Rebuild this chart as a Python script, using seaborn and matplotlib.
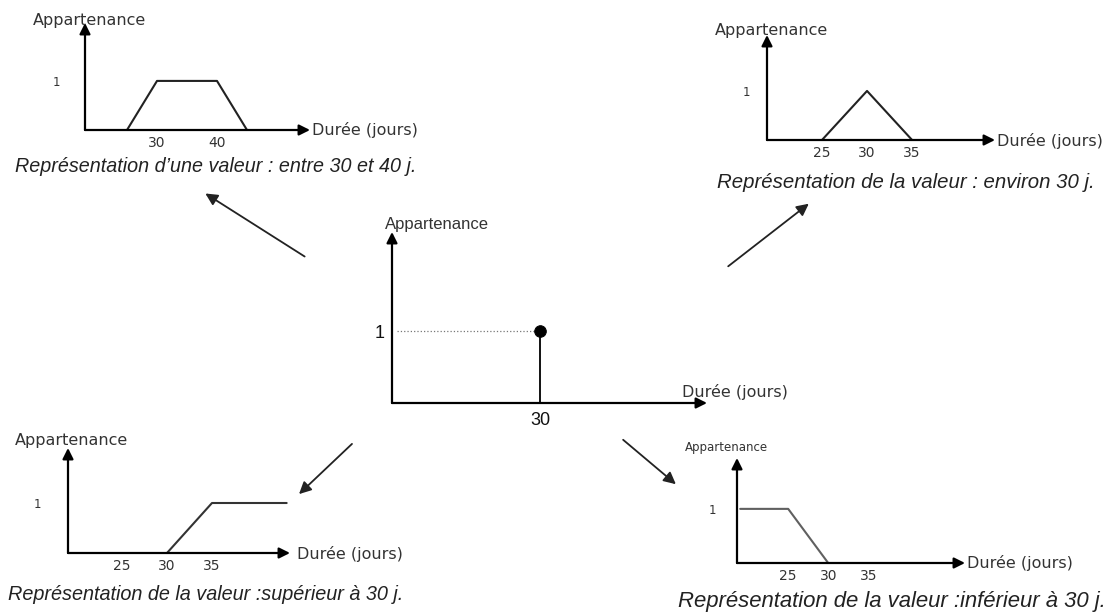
import matplotlib

matplotlib.use("Agg")
import matplotlib.pyplot as plt
import seaborn as sns

sns.set_theme(style="white")
plt.rcParams["font.family"] = ["DejaVu Sans"]

W, H = 1109, 613

# --- données : fonctions d'appartenance ------------------------------------
entre_x = [25, 30, 40, 45]
entre_y = [0, 1, 1, 0]
entre_ticks = [30, 40]

environ_x = [25, 30, 35]
environ_y = [0, 1, 0]
environ_ticks = [25, 30, 35]

exact_x = [30, 30]
exact_y = [0, 1]
exact_ticks = [30]

sup_x = [30, 35, 43.3]
sup_y = [0, 1, 1]
sup_ticks = [25, 30, 35]

inf_x = [19, 25, 30]
inf_y = [1, 1, 0]
inf_ticks = [25, 30, 35]

label_y = "Appartenance"
label_x = "Durée (jours)"
captions = [
    "Représentation d\u2019une valeur : entre 30 et 40 j.",
    "Représentation de la valeur : environ 30 j.",
    "Représentation de la valeur :supérieur à 30 j.",
    "Représentation de la valeur :inférieur à 30 j.",
]


def fx(x):
    return x / W


def fy(y):
    return 1 - y / H


def panneau(box, xlim, ylim, ticks, tick_size=10, ypad=18, xpad=4.5,
            ytick_font="DejaVu Sans", ytick_size=8.5):
    x0, x1, yt, yb = box
    ax = fig.add_axes([fx(x0), fy(yb), fx(x1 - x0), (yb - yt) / H])
    ax.set_xlim(*xlim)
    ax.set_ylim(*ylim)
    for s in ax.spines.values():
        s.set_visible(False)
    ax.set_facecolor("none")
    ax.set_xticks(ticks)
    ax.set_xticklabels([str(t) for t in ticks], fontsize=tick_size,
                       color="#333333")
    ax.set_yticks([1])
    ax.set_yticklabels(["1"], fontsize=ytick_size, color="#333333",
                       family=ytick_font)
    ax.tick_params(axis="x", length=0, pad=xpad)
    ax.tick_params(axis="y", length=0, pad=ypad)
    ax.grid(False)
    fleche = dict(arrowstyle="-|>", color="black", lw=1.6,
                  mutation_scale=16, shrinkA=0, shrinkB=0)
    ax.annotate("", xy=(1, 0), xytext=(0, 0), xycoords="axes fraction",
                arrowprops=fleche, annotation_clip=False)
    ax.annotate("", xy=(0, 1), xytext=(0, 0), xycoords="axes fraction",
                arrowprops=fleche, annotation_clip=False)
    return ax


def courbe(ax, x, y, color="#222222", lw=1.5, **kw):
    sns.lineplot(x=x, y=y, ax=ax, color=color, lw=lw, sort=False,
                 estimator=None, **kw)
    for line in ax.lines:
        line.set_clip_on(False)


def texte(x, y, s, size=11.5, family="DejaVu Sans", style="normal",
          color="#333333"):
    fig.text(fx(x), fy(y), s, fontsize=size, family=family, style=style,
             color=color, ha="left", va="center")


def legende(x, y, s, size):
    texte(x, y, s, size=size, family="Liberation Sans", style="italic",
          color="#222222")


fig = plt.figure(figsize=(W / 100, H / 100), dpi=100)

# entre 30 et 40
ax1 = panneau((85, 310, 23, 130), (18, 55.5), (0, 2.18), entre_ticks, ypad=18)
courbe(ax1, entre_x, entre_y)
texte(33, 20, label_y)
texte(312, 130, label_x)
legende(15, 167, captions[0], 14.2)

# environ 30
ax2 = panneau((767, 995, 35, 140), (18.9, 44.2), (0, 2.14), environ_ticks,
              ypad=12)
courbe(ax2, environ_x, environ_y)
texte(715, 30, label_y)
texte(997, 141, label_x)
legende(717, 182, captions[1], 14.7)

# valeur exacte 30
ax3 = panneau((392, 707, 232, 403), (0, 63.8), (0, 2.375), exact_ticks,
              tick_size=13, xpad=6.5, ypad=5, ytick_font="Liberation Sans",
              ytick_size=13)
for lab in ax3.get_xticklabels():
    lab.set_family("Liberation Sans")
    lab.set_color("#111111")
ax3.get_yticklabels()[0].set_color("#111111")
sns.lineplot(x=[1, 30], y=[1, 1], ax=ax3, color="#777777", lw=0.9,
             linestyle=":", sort=False, estimator=None)
courbe(ax3, exact_x, exact_y, color="#111111", lw=1.4)
sns.scatterplot(x=exact_x[-1:], y=exact_y[-1:], ax=ax3, color="black",
                s=70, edgecolor="black", zorder=5, clip_on=False)
texte(385, 224, label_y, size=12, family="Liberation Sans")
texte(682, 392, label_x)

# supérieur à 30
ax4 = panneau((68, 290, 448, 553), (19, 43.67), (0, 2.1), sup_ticks, ypad=19)
courbe(ax4, sup_x, sup_y, color="#333333")
texte(15, 441, label_y)
texte(297, 554, label_x)
legende(8, 594, captions[2], 14.3)

# inférieur à 30
ax5 = panneau((737, 965, 458, 563), (18.6, 47.1), (0, 1.94), inf_ticks,
              ypad=15)
courbe(ax5, inf_x, inf_y, color="#606060")
texte(685, 448, label_y, size=8.5)
texte(967, 563, label_x)
legende(678, 602, captions[3], 15.9)

# flèches de liaison
liens = [((307, 258), (203, 192)), ((726, 268), (811, 202)),
         ((354, 442), (297, 496)), ((621, 438), (678, 486))]
for (xa, ya), (xb, yb) in liens:
    fig.add_artist(matplotlib.patches.FancyArrowPatch(
        (fx(xa), fy(ya)), (fx(xb), fy(yb)), transform=fig.transFigure,
        arrowstyle="-|>", mutation_scale=18, lw=1.3, color="#222222"))

fig.savefig("out.png", dpi=100, facecolor="white")
